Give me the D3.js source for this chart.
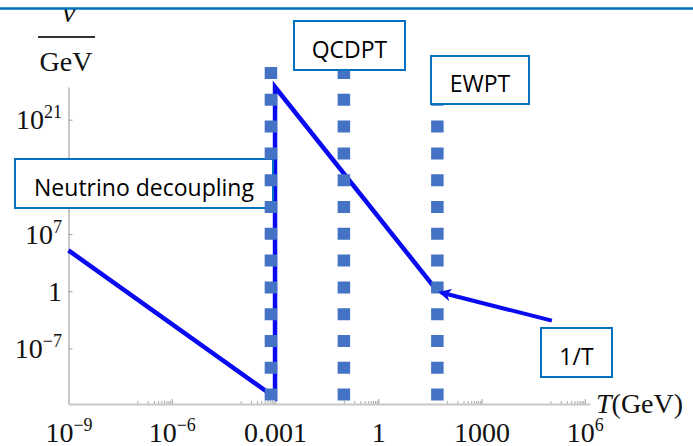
<!DOCTYPE html>
<html>
<head>
<meta charset="utf-8">
<script src="https://cdn.jsdelivr.net/npm/d3@7"></script>
<style>
  html, body { margin: 0; padding: 0; background: #ffffff; }
  svg { display: block; }
</style>
</head>
<body>
<script>
// ---------------- data ----------------
// main rate curve nu(T) in GeV, T in GeV
const curveT = [1e-9, 1e-3, 1e-3, 50];
const curveV = [1e5, 1e-13, 1e25, 1.3];
// 1/T arrow segment (from tail to head)
const arrowT = [1.1e5, 66];
const arrowV = [Math.pow(10, -3.6), Math.pow(10, -0.16)];
// transition temperatures (dotted verticals)
const transitionT = [7.6e-4, 0.1, 52];
const transitionNames = ["Neutrino decoupling", "QCDPT", "EWPT"];
// axis ticks (10^14 lies hidden under the "Neutrino decoupling" box)
const xTicks = [1e-9, 1e-6, 1e-3, 1, 1e3, 1e6];
const xTickLabels = ["10^-9", "10^-6", "0.001", "1", "1000", "10^6"];
const yTicks = [1e-7, 1, 1e7, 1e21];
const yTickLabels = ["10^-7", "1", "10^7", "10^21"];
const arrowLabel = "1/T";

// ---------------- layout ----------------
const W = 693, H = 446;
const svg = d3.select("body").append("svg").attr("width", W).attr("height", H);
const serif = "Liberation Serif, Times New Roman, serif";
const sans = "Open Sans, Noto Sans, sans-serif";
const boxBlue = "#0070C0";
const dotBlue = "#4472C4";
const lineBlue = "#0A0AF0";

const x = d3.scaleLog().domain([1e-9, Math.pow(10, 6.15)]).range([68.5, 590]);
const y = d3.scaleLog().domain([Math.pow(10, -13.8), 1e25]).range([404, 87]);

function supLabel(sel, label) {
  const parts = label.split("^");
  sel.text(null);
  sel.append("tspan").text(parts[0]);
  if (parts[1] !== undefined) {
    sel.append("tspan").attr("font-size", 18).attr("dy", -11)
      .text(parts[1].replace("-", "\u2212"));
  }
}

// minor ticks on x axis
const minorTicks = [];
[-7, -4, -1, 2, 5].forEach(e => {
  for (let k = 1; k <= 9; k++) minorTicks.push(k * Math.pow(10, e));
});
const xMinor = svg.append("g").attr("transform", "translate(0,404)")
  .call(d3.axisBottom(x).tickValues(minorTicks).tickSizeInner(-3).tickSizeOuter(0).tickFormat(""));
xMinor.select(".domain").remove();
xMinor.selectAll(".tick line").attr("stroke", "#a8a8a8").attr("stroke-width", 1);

// x axis
const xAxis = svg.append("g").attr("transform", "translate(0,404)")
  .call(d3.axisBottom(x).tickValues(xTicks).tickSizeInner(-5).tickSizeOuter(0)
    .tickFormat((d, i) => xTickLabels[i]));
xAxis.select(".domain").attr("stroke", "#c8c8c8").attr("stroke-width", 2);
xAxis.selectAll(".tick line").attr("stroke", "#a0a0a0").attr("stroke-width", 1);
xAxis.selectAll(".tick text")
  .attr("font-family", serif).attr("font-size", 28).attr("fill", "#111")
  .attr("y", 38).attr("dy", 0)
  .each(function(d, i) { supLabel(d3.select(this), xTickLabels[i]); });

// y axis
const yAxis = svg.append("g").attr("transform", "translate(68.5,0)")
  .call(d3.axisLeft(y).tickValues(yTicks).tickSizeInner(-4).tickSizeOuter(0).tickPadding(6.5)
    .tickFormat((d, i) => yTickLabels[i]));
yAxis.select(".domain").attr("stroke", "#c8c8c8").attr("stroke-width", 2);
yAxis.selectAll(".tick line").attr("stroke", "#a0a0a0").attr("stroke-width", 1);
yAxis.selectAll(".tick text")
  .attr("font-family", serif).attr("font-size", 28).attr("fill", "#111")
  .each(function(d, i) { supLabel(d3.select(this), yTickLabels[i]); });

// axis titles
svg.append("text").attr("x", 69).attr("y", 22).attr("text-anchor", "middle")
  .attr("font-family", serif).attr("font-style", "italic").attr("font-size", 30)
  .attr("fill", "#111").text("\u03BD");
svg.append("line").attr("x1", 38).attr("x2", 95).attr("y1", 37).attr("y2", 37)
  .attr("stroke", "#333").attr("stroke-width", 1.8);
svg.append("text").attr("x", 66).attr("y", 71).attr("text-anchor", "middle")
  .attr("font-family", serif).attr("font-size", 28).attr("fill", "#111").text("GeV");
const tLab = svg.append("text").attr("x", 596).attr("y", 413)
  .attr("font-family", serif).attr("font-size", 28).attr("fill", "#111");
tLab.append("tspan").attr("font-style", "italic").text("T");
tLab.append("tspan").text("(GeV)");

// header strip
svg.append("rect").attr("x", 0).attr("y", 0).attr("width", W).attr("height", 8).attr("fill", "#fff");
svg.append("line").attr("x1", 0).attr("x2", W).attr("y1", 8.5).attr("y2", 8.5)
  .attr("stroke", boxBlue).attr("stroke-width", 2.5);

// main curve
const pts = curveT.map((t, i) => [x(t), y(curveV[i])]);
svg.append("path").attr("d", d3.line()(pts))
  .attr("fill", "none").attr("stroke", lineBlue).attr("stroke-width", 4.5)
  .attr("stroke-linejoin", "miter");

// label boxes
function box(x0, y0, x1, y1, label) {
  const g = svg.append("g");
  g.append("rect").attr("x", x0).attr("y", y0).attr("width", x1 - x0).attr("height", y1 - y0)
    .attr("fill", "#fff").attr("stroke", boxBlue).attr("stroke-width", 2);
  g.append("text").attr("x", (x0 + x1) / 2).attr("y", (y0 + y1) / 2 + 12)
    .attr("text-anchor", "middle").attr("font-family", sans).attr("font-size", 23)
    .attr("fill", "#000").text(label);
}
box(15, 159, 273, 208, transitionNames[0]);

// dotted transition lines
svg.append("g").selectAll("line").data(transitionT).join("line")
  .attr("x1", d => x(d)).attr("x2", d => x(d))
  .attr("y1", 67).attr("y2", 401)
  .attr("stroke", dotBlue).attr("stroke-width", 12.5)
  .attr("stroke-dasharray", "12 14.8");

box(294, 21, 405, 70, transitionNames[1]);
box(431, 56, 529, 104, transitionNames[2]);
box(541, 328, 612, 377, arrowLabel);

// 1/T arrow
svg.append("defs").append("marker").attr("id", "ah")
  .attr("viewBox", "0 0 10 10").attr("refX", 8).attr("refY", 5)
  .attr("markerWidth", 3.2).attr("markerHeight", 3.2).attr("orient", "auto")
  .append("path").attr("d", "M0,0 L10,5 L0,10 L3,5 Z").attr("fill", lineBlue);
const apts = arrowT.map((t, i) => [x(t), y(arrowV[i])]);
svg.append("path").attr("d", d3.line()(apts))
  .attr("fill", "none").attr("stroke", lineBlue).attr("stroke-width", 4)
  .attr("marker-end", "url(#ah)");
</script>
</body>
</html>
